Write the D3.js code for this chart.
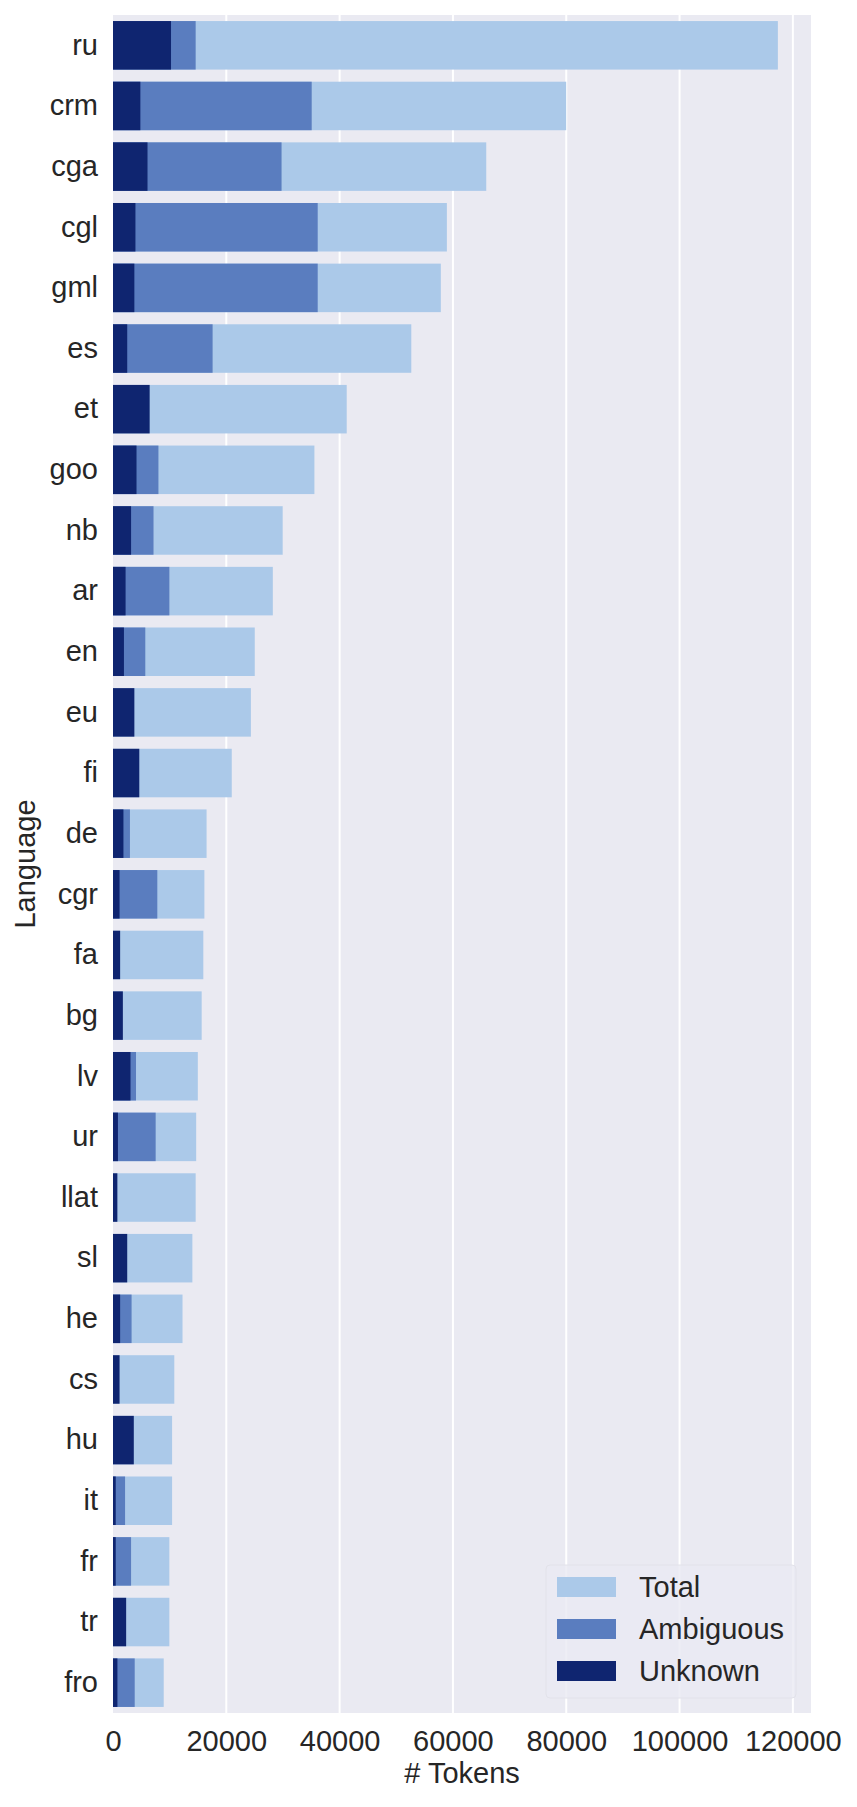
<!DOCTYPE html>
<html>
<head>
<meta charset="utf-8">
<script src="https://cdn.jsdelivr.net/npm/d3@7"></script>
<style>
  body { margin: 0; background: #fff; }
  text { font-family: "Liberation Sans", Arial, sans-serif; fill: #262626; }
</style>
</head>
<body>
<div id="chart-container"></div>
<script>
// data
const languages = ["ru", "crm", "cga", "cgl", "gml", "es", "et", "goo", "nb", "ar", "en", "eu", "fi", "de",
  "cgr", "fa", "bg", "lv", "ur", "llat", "sl", "he", "cs", "hu", "it", "fr", "tr", "fro"];
const totalTokens = [117350, 79990, 65880, 58930, 57860, 52650, 41250, 35550, 29950, 28210, 25020, 24340, 20960, 16520,
  16130, 15940, 15650, 14970, 14680, 14590, 14010, 12270, 10820, 10430, 10430, 9950, 9950, 8950];
const ambiguousTokens = [14590, 35070, 29750, 36130, 36130, 17580, 0, 8020, 7150, 9950, 5700, 0, 0, 2990,
  7820, 0, 0, 4060, 7530, 0, 0, 3280, 0, 0, 2130, 3190, 0, 3830];
const unknownTokens = [10240, 4830, 6090, 3960, 3770, 2510, 6470, 4150, 3190, 2220, 1930, 3770, 4640, 1840,
  1160, 1260, 1740, 3090, 870, 770, 2510, 1260, 1160, 3670, 480, 480, 2320, 780];
const xTicks = [0, 20000, 40000, 60000, 80000, 100000, 120000];
const seriesNames = ["Total", "Ambiguous", "Unknown"];
const seriesColors = ["#abc9e9", "#5a7dbf", "#0f2570"];

// size and margins
const W = 857, H = 1807;
const margin = { top: 15, right: 46, bottom: 94, left: 113 };
const width = W - margin.left - margin.right;
const height = H - margin.top - margin.bottom;

const svg = d3.select("#chart-container")
  .append("svg")
  .attr("width", W)
  .attr("height", H);

const g = svg.append("g")
  .attr("transform", `translate(${margin.left},${margin.top})`);

// scales
const x = d3.scaleLinear().domain([0, 123200]).range([0, width]);
const y = d3.scaleBand().domain(languages).range([0, height])
  .paddingInner(0.2).paddingOuter(0.1);

// background
g.append("rect")
  .attr("width", width)
  .attr("height", height)
  .attr("fill", "#eaeaf2");

// vertical grid lines
g.selectAll(".xGrid")
  .data(xTicks.slice(1))
  .join("line")
  .attr("x1", d => x(d))
  .attr("x2", d => x(d))
  .attr("y1", 0)
  .attr("y2", height)
  .attr("stroke", "#fff")
  .attr("stroke-width", 2);

// bars: total first, then ambiguous, then unknown on top
const series = [totalTokens, ambiguousTokens, unknownTokens];
series.forEach((vals, k) => {
  g.append("g")
    .selectAll("rect")
    .data(languages.map((l, i) => ({ lang: l, v: vals[i] })))
    .join("rect")
    .attr("x", x(0))
    .attr("y", d => y(d.lang))
    .attr("width", d => x(d.v) - x(0))
    .attr("height", y.bandwidth())
    .attr("fill", seriesColors[k]);
});

// x axis
g.append("g")
  .attr("transform", `translate(0,${height})`)
  .call(d3.axisBottom(x).tickValues(xTicks).tickFormat(d3.format("d")).tickSize(0).tickPadding(17))
  .call(a => a.select(".domain").remove())
  .selectAll("text")
  .style("font-size", "29px")
  .attr("fill", "#262626");

// y axis
g.append("g")
  .call(d3.axisLeft(y).tickSize(0).tickPadding(15))
  .call(a => a.select(".domain").remove())
  .selectAll("text")
  .style("font-size", "29px")
  .attr("fill", "#262626");

svg.selectAll(".tick text").style("font-family", "'Liberation Sans', Arial, sans-serif");

// axis titles
svg.append("text")
  .attr("x", margin.left + width / 2)
  .attr("y", 1783)
  .style("text-anchor", "middle")
  .style("font-size", "29px")
  .text("# Tokens");

svg.append("text")
  .attr("transform", `translate(35,${margin.top + height / 2}) rotate(-90)`)
  .style("text-anchor", "middle")
  .style("font-size", "29px")
  .text("Language");

// legend
const legend = svg.append("g").attr("transform", "translate(546,1565)");
legend.append("rect")
  .attr("width", 250)
  .attr("height", 133)
  .attr("rx", 4)
  .attr("fill", "#eaeaf2")
  .attr("fill-opacity", 0.8)
  .attr("stroke", "#e2e2ea")
  .attr("stroke-width", 1);

seriesNames.forEach((name, i) => {
  legend.append("rect")
    .attr("x", 11)
    .attr("y", 12 + i * 42)
    .attr("width", 59)
    .attr("height", 20)
    .attr("fill", seriesColors[i]);
  legend.append("text")
    .attr("x", 93)
    .attr("y", 22 + i * 42)
    .attr("dy", "0.35em")
    .style("font-size", "29px")
    .text(name);
});
</script>
</body>
</html>
